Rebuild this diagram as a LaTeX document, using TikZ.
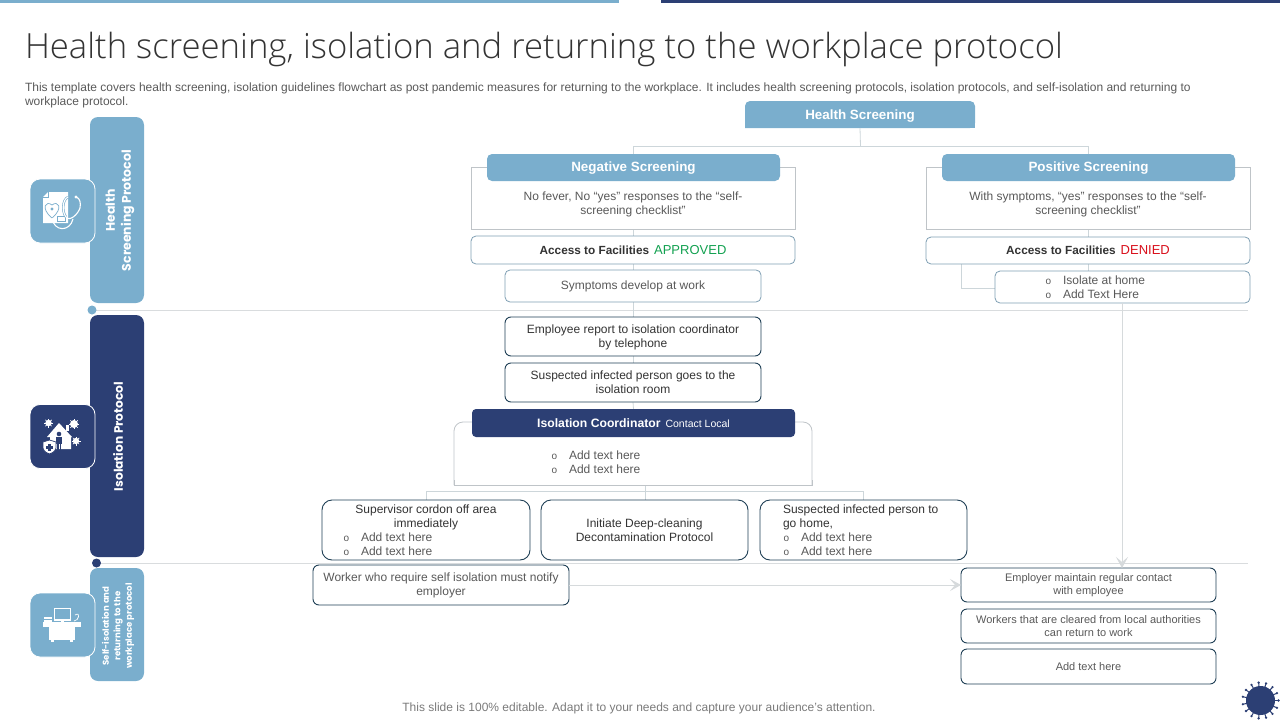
\documentclass[tikz,border=0pt]{standalone}
\usepackage{fontspec}
\setmainfont{Liberation Sans}
\newfontfamily\titlefont[UprightFont=* Light]{Open Sans}
\newfontfamily\sidefont{Poppins}
\usetikzlibrary{arrows.meta}
\definecolor{lblue}{HTML}{7AAECD}
\definecolor{navy}{HTML}{2C3F74}
\definecolor{txt}{HTML}{595959}
\definecolor{dark}{HTML}{333333}
\definecolor{conn}{HTML}{CDD6DA}
\definecolor{arrowgrey}{HTML}{D6DADC}
\definecolor{softline}{HTML}{7F9FB3}
\definecolor{darkline}{HTML}{1F3F55}
\definecolor{greyline}{HTML}{BFC4C8}
\definecolor{sep}{HTML}{D9DCDE}
\definecolor{okgreen}{HTML}{12A150}
\definecolor{nored}{HTML}{D9101C}
\newcommand{\fs}[1]{\fontsize{#1}{14}\selectfont}
\newcommand{\blt}[1]{\makebox[18pt][l]{\fontsize{10}{10}\selectfont\hspace{.5pt}o}#1}
\newcommand{\dn}[1]{\raisebox{-1pt}[\height][\depth]{#1}}
\tikzset{
 every node/.style={inner sep=0pt,outer sep=0pt,font=\fs{12},text=txt,align=center},
 softbox/.style={draw=softline,line width=.8pt,rounded corners=5pt,fill=white},
 darkbox/.style={draw=darkline,line width=.9pt,rounded corners=6pt,fill=white},
 bigbox/.style={draw=darkline,line width=.9pt,rounded corners=10pt,fill=white},
 plainbox/.style={draw=greyline,line width=.8pt,fill=white},
 headbox/.style={fill=lblue,rounded corners=5pt,text=white,font=\fs{13.4}\bfseries},
 sidebar/.style={rounded corners=8pt},
 iconbox/.style={draw=white,line width=.8pt,rounded corners=10pt,minimum width=65pt,minimum height=64pt},
 link/.style={draw=conn,line width=.8pt},
 arrowlink/.style={draw=arrowgrey,line width=.8pt,-{Stealth[length=11pt,width=12pt,inset=5pt]}},
 sepline/.style={draw=sep,line width=.8pt},
}
\begin{document}
\begin{tikzpicture}[x=1pt,y=-1pt]
\useasboundingbox (0,0) rectangle (1280,720);
\fill[lblue] (0,0) rectangle (619,3);
\fill[navy] (661,0) rectangle (1280,3);
\node[anchor=west,text=dark,font=\titlefont\fs{34.67}] (title) at (25,49) {Health screening, isolation and returning to the workplace protocol};
\node[anchor=north west,align=left,font=\fs{12}] (desc) at (25,83) {This template covers health screening, isolation guidelines flowchart as post pandemic measures for returning to the workplace. It includes health screening protocols, isolation protocols, and self-isolation and returning to\\workplace protocol.};
% separators
\coordinate (s1a) at (96,310.5); \coordinate (s1b) at (1248,310.5);
\coordinate (s2a) at (100,563); \coordinate (s2b) at (1248,563);
\draw[sepline] (s1a) -- (s1b);
\draw[sepline] (s2a) -- (s2b);
\fill[lblue] (92,310) circle (4.5);
\fill[navy] (96.5,563) circle (4.5);
% side bars
\node[sidebar,fill=lblue,minimum width=54pt,minimum height=186pt] (bar1) at (117,210) {};
\node[sidebar,fill=navy,minimum width=54pt,minimum height=242pt] (bar2) at (117,436) {};
\node[sidebar,fill=lblue,minimum width=54pt,minimum height=113pt] (bar3) at (117,624.5) {};
\node[rotate=90,text=white,font=\sidefont\bfseries\fontsize{12.5}{16}\selectfont] (bar1t) at (120,210.5) {Health\\Screening Protocol};
\node[rotate=90,text=white,font=\sidefont\bfseries\fontsize{12.2}{16}\selectfont] (bar2t) at (118,436.5) {Isolation Protocol};
\node[rotate=90,text=white,font=\sidefont\bfseries\fontsize{8.6}{11.5}\selectfont] (bar3t) at (118,626) {Self-isolation and\\returning to the\\workplace protocol};
\node[iconbox,fill=lblue] (ic1) at (62.5,211) {};
\node[iconbox,fill=navy] (ic2) at (62.5,436.5) {};
\node[iconbox,fill=lblue] (ic3) at (62.5,625) {};
% icon 1
\fill[white] (43,197) -- (48,192) -- (68,192) -- (68,223) -- (43,223) -- cycle;
\draw[lblue,line width=.7pt] (48,192) -- (48,197) -- (43,197);
\draw[lblue,line width=.7pt] (52,218) .. controls (40,208) and (46,200) .. (52,205) .. controls (58,200) and (64,208) .. (52,218);
\fill[lblue] (52,209) circle (1.6);
\draw[lblue,line width=.7pt] (57,216) rectangle (65,221);
\draw[lblue,line width=2.4pt] (68,197) .. controls (62,200) and (62,212) .. (66,217);
\draw[white,line width=1.1pt] (68,197) .. controls (62,200) and (62,212) .. (66,217) .. controls (70,222) and (78,214) .. (80,208) .. controls (81,203) and (80,198) .. (76,197);
\draw[white,line width=1.1pt] (73,219) .. controls (70,232) and (54,232) .. (52,218);
\fill[white] (76,197) circle (1.6);
% icon 2
\fill[white] (59,423) -- (47,437) -- (50,437) -- (50,449) -- (71,449) -- (71,437) -- (72,437) -- cycle;
\fill[white] (66,425) rectangle (69,431);
\fill[navy] (59,434) circle (2.3);
\fill[navy] (56,437) rectangle (62,444);
\fill[navy] (57,444) rectangle (58.5,450);
\fill[navy] (59.5,444) rectangle (61,450);
\fill[white,draw=navy,line width=.7pt] (43,442) -- (49.5,440) -- (56,442) -- (56,448) .. controls (55,452) and (52,453) .. (49.5,454) .. controls (47,453) and (44,452) .. (43,448) -- cycle;
\fill[navy] (48.3,444) rectangle (50.7,451);
\fill[navy] (46,446.3) rectangle (53,448.7);
\foreach \p/\r in {{48.5,423}/3.2,{74,424}/4,{76,441}/3.2}{
 \fill[white] (\p) circle (\r);
 \foreach \a in {0,45,...,315}{\draw[white,line width=.7pt] (\p) -- ++(\a:\r+1.3);}
}
% icon 3
\draw[white,line width=1.1pt] (54.5,608.5) rectangle (70.5,620);
\fill[white] (61,620) rectangle (64,622);
\fill[white] (43,622) rectangle (81,627);
\fill[white] (49,627) rectangle (75,640);
\fill[white] (51,640) rectangle (54,642);
\fill[white] (70,640) rectangle (73,642);
\fill[white] (44,617) rectangle (52,619);
\fill[white] (44,620) rectangle (52,622);
\draw[white,line width=.7pt] (74,621) .. controls (79,621) and (81,611) .. (75,615);
% virus
\foreach \a in {0,24,...,336}{
 \draw[navy,line width=1pt] (1260.5,700.5) -- ++(\a:18);
 \fill[navy] (1260.5,700.5) ++(\a:18) circle (1.3);
}
\fill[navy] (1260.5,700.5) circle (14.5);
% flow nodes
\coordinate (hsjoin) at (860.5,146);
\coordinate (negjoin) at (633,146);
\coordinate (posjoin) at (1088,146);
\coordinate (isojoin) at (645,491);
\coordinate (supjoin) at (426,491);
\coordinate (gojoin) at (863,491);
\coordinate (accd) at (961,264);
\coordinate (accdb) at (961,288);
\coordinate (isow) at (995,288);
\coordinate (isos) at (1122,303);
\coordinate (empn) at (1122,568);
\node[minimum width=230pt,minimum height=27pt] (hs) at (860,114.5) {};
\fill[lblue,rounded corners=5pt] (745,128) -- (745,101) -- (975,101) -- (975,128) [sharp corners] -- cycle;
\fill[lblue] (745,120) rectangle (975,128);
\node[text=white,font=\fs{13.4}\bfseries] (hst) at (860,116) {Health Screening};
\node[minimum width=324pt,minimum height=62pt] (negb) at (633,198) {};
\node[minimum width=324pt,minimum height=62pt] (posb) at (1088,198) {};
\node[minimum width=324pt,minimum height=28pt] (acca) at (633,250) {};
\node[minimum width=324pt,minimum height=27pt] (accb) at (1088,250.5) {};
\node[minimum width=256pt,minimum height=32pt] (symp) at (633,286) {};
\node[minimum width=256pt,minimum height=39pt] (emp) at (633,336.5) {};
\node[minimum width=256pt,minimum height=39pt] (susp) at (633,382.5) {};
\node[minimum width=323pt,minimum height=28pt] (coord) at (633.5,423) {};
\node[minimum width=358pt,minimum height=63pt] (isob) at (633,453.5) {};
% connectors (behind the boxes)
\draw[link] (hs.south) -- (hsjoin);
\draw[link] (negjoin) -- (posjoin);
\draw[link] (negjoin) -- (negb.north);
\draw[link] (posjoin) -- (posb.north);
\draw[link] (negb.south) -- (acca.north);
\draw[link] (posb.south) -- (accb.north);
\draw[link] (acca.south) -- (symp.north);
\draw[link] (symp.south) -- (emp.north);
\draw[link] (emp.south) -- (susp.north);
\draw[link] (susp.south) -- (coord.north);
\draw[link] (accd) -- (accdb) -- (isow);
\draw[link] (accb.south) -- (1088,271);
\draw[link] (645,485) -- (isojoin);
\draw[link] (supjoin) -- (gojoin);
\draw[link] (isojoin) -- (645,500);
\draw[link] (supjoin) -- (426,500);
\draw[link] (gojoin) -- (863,500);
% boxes
\node[plainbox,minimum width=324pt,minimum height=62pt] at (633,198) {};
\node[plainbox,minimum width=324pt,minimum height=62pt] at (1088,198) {};
\node[headbox,minimum width=293pt,minimum height=27pt] (neg) at (633.5,167.5) {\dn{Negative Screening}};
\node[headbox,minimum width=293pt,minimum height=27pt] (pos) at (1088.5,167.5) {\dn{Positive Screening}};
\node (negt) at (633,204) {No fever, No “yes” responses to the “self-\\screening checklist”};
\node (post) at (1088,204) {With symptoms, “yes” responses to the “self-\\screening checklist”};
\node[softbox,minimum width=324pt,minimum height=28pt] (accab) at (633,250) {\bfseries\fs{11.8}\textcolor{dark}{Access to Facilities}\hspace{5pt}\textcolor{okgreen}{\fs{13}\mdseries APPROVED}};
\node[softbox,minimum width=324pt,minimum height=27pt] (accbb) at (1088,250.5) {\bfseries\fs{11.8}\textcolor{dark}{Access to Facilities}\hspace{5pt}\textcolor{nored}{\fs{13}\mdseries DENIED}};
\node[softbox,minimum width=256pt,minimum height=32pt] (sympb) at (633,286) {Symptoms develop at work};
\node[softbox,minimum width=255pt,minimum height=32pt,align=left] (isol) at (1122.5,287) {\parbox{155pt}{\fontsize{12}{14}\selectfont\blt{Isolate at home}\\\blt{Add Text Here}}};
\node[darkbox,minimum width=256pt,minimum height=39pt,text=dark] (empb) at (633,336.5) {\dn{Employee report to isolation coordinator}\\\dn{by telephone}};
\node[darkbox,minimum width=256pt,minimum height=39pt,text=dark] (suspb) at (633,382.5) {Suspected infected person goes to the\\isolation room};
\draw[greyline,line width=.8pt,rounded corners=9pt] (454,485) -- (454,422) -- (812,422) -- (812,485);
\draw[greyline,line width=.8pt] (454,480) -- (454,485) -- (812,485) -- (812,480);
\node[fill=navy,rounded corners=4pt,minimum width=323pt,minimum height=28pt,text=white] (coordb) at (633.5,423) {\bfseries\fs{12.2}Isolation Coordinator\mdseries\fs{10.5}\hspace{5pt}Contact Local};
\node[anchor=west,align=left] (isot) at (551,462) {\blt{Add text here}\\\blt{Add text here}};
\node[bigbox,minimum width=208pt,minimum height=60pt] (sup) at (426,530) {};
\node[align=left,text=dark] (supt) at (426,530) {\makebox[166pt][c]{Supervisor cordon off area}\\\makebox[166pt][c]{immediately}\\\makebox[166pt][l]{\textcolor{txt}{\blt{Add text here}}}\\\makebox[166pt][l]{\textcolor{txt}{\blt{Add text here}}}};
\node[bigbox,minimum width=207pt,minimum height=60pt,text=dark] (deep) at (644.5,530) {Initiate Deep-cleaning\\Decontamination Protocol};
\node[bigbox,minimum width=207pt,minimum height=60pt] (go) at (863.5,530) {};
\node[align=left,text=dark] (got) at (863.5,530) {\makebox[161pt][l]{Suspected infected person to}\\\makebox[161pt][l]{go home,}\\\makebox[161pt][l]{\textcolor{txt}{\blt{Add text here}}}\\\makebox[161pt][l]{\textcolor{txt}{\blt{Add text here}}}};
\node[darkbox,minimum width=256pt,minimum height=40pt] (work) at (441,585) {Worker who require self isolation must notify\\employer};
\node[darkbox,minimum width=255pt,minimum height=34pt,font=\fontsize{11}{13}\selectfont] (empl) at (1088.5,585) {Employer maintain regular contact\\with employee};
\node[darkbox,minimum width=255pt,minimum height=34pt,font=\fontsize{11}{13}\selectfont] (clear) at (1088.5,626) {Workers that are cleared from local authorities\\can return to work};
\node[darkbox,minimum width=255pt,minimum height=35pt,font=\fontsize{11}{13}\selectfont] (add) at (1088.5,666.5) {Add text here};
\draw[arrowlink] (isos) -- (empn);
\draw[arrowlink] (work.east) -- (empl.west);
\node[text=black!52] (foot) at (639,708) {This slide is 100\% editable. Adapt it to your needs and capture your audience's attention.};
\end{tikzpicture}
\end{document}
